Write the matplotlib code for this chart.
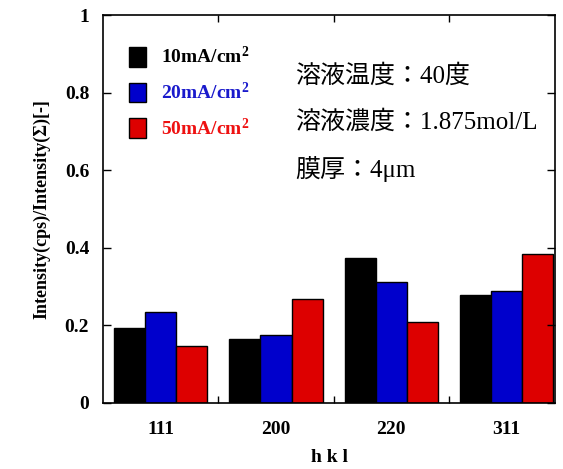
import numpy as np
import matplotlib.pyplot as plt

categories = ['111', '200', '220', '311']
series_names = ['10mA/cm$^{2}$', '20mA/cm$^{2}$', '50mA/cm$^{2}$']
values_10 = [0.193, 0.164, 0.373, 0.278]
values_20 = [0.235, 0.174, 0.311, 0.289]
values_50 = [0.147, 0.269, 0.208, 0.383]
colors = ['#000000', '#0000cc', '#dd0000']
text_colors = ['#000000', '#1a1acc', '#ee1111']
notes = ['溶液温度：40度', '溶液濃度：1.875mol/L', '膜厚：4μm']

serif = ['Liberation Serif', 'DejaVu Serif']
jp = ['Liberation Serif', 'Noto Sans CJK JP', 'DejaVu Sans']
plt.rcParams['font.family'] = serif
plt.rcParams['mathtext.fontset'] = 'custom'
plt.rcParams['mathtext.rm'] = 'Liberation Serif:bold'
plt.rcParams['mathtext.it'] = 'Liberation Serif:bold'

fig = plt.figure(figsize=(5.63, 4.69), dpi=100)
ax = fig.add_axes([0.183, 0.141, 0.803, 0.827])

x = np.arange(len(categories))
w = 0.27
for k, vals in enumerate([values_10, values_20, values_50]):
    ax.bar(x + (k - 1) * w, vals, w, color=colors[k], edgecolor='black',
           linewidth=1.0, label=series_names[k])

ax.set_xlim(-0.5, 3.42)
ax.set_ylim(0, 1)
ax.set_yticks([0, 0.2, 0.4, 0.6, 0.8, 1.0])
ax.set_yticklabels(['0', '0.2', '0.4', '0.6', '0.8', '1'])
ax.set_xticks(x)
ax.set_xticklabels(categories)
ax.set_xticks([0.5, 1.5, 2.5], minor=True)
ax.tick_params(axis='x', which='major', length=0, pad=13)
ax.tick_params(axis='x', which='minor', direction='in', length=5, top=True, bottom=True, width=1)
ax.tick_params(axis='y', direction='in', length=6, left=True, right=True, width=1, pad=10)
for lab in ax.get_xticklabels() + ax.get_yticklabels():
    lab.set_fontweight('bold')
    lab.set_fontsize(14)
for s in ax.spines.values():
    s.set_linewidth(1.2)

ax.set_xlabel('h k l', fontsize=14, fontweight='bold', labelpad=8)
ax.set_ylabel('Intensity(cps)/Intensity(Σ)[-]', fontsize=13, fontweight='bold', labelpad=10)

leg = ax.legend(loc='upper left', bbox_to_anchor=(0.018, 0.965), frameon=False,
                handlelength=0.9, handleheight=1.2, handletextpad=0.75,
                labelspacing=0.75, prop={'family': serif, 'weight': 'bold', 'size': 14})
for t, c in zip(leg.get_texts(), text_colors):
    t.set_color(c)

for i, note in enumerate(notes):
    ax.text(0.425, 0.843 - i * 0.12, note, transform=ax.transAxes, fontsize=18,
            family=jp, va='center', ha='left')

fig.savefig('out.png', dpi=100)
